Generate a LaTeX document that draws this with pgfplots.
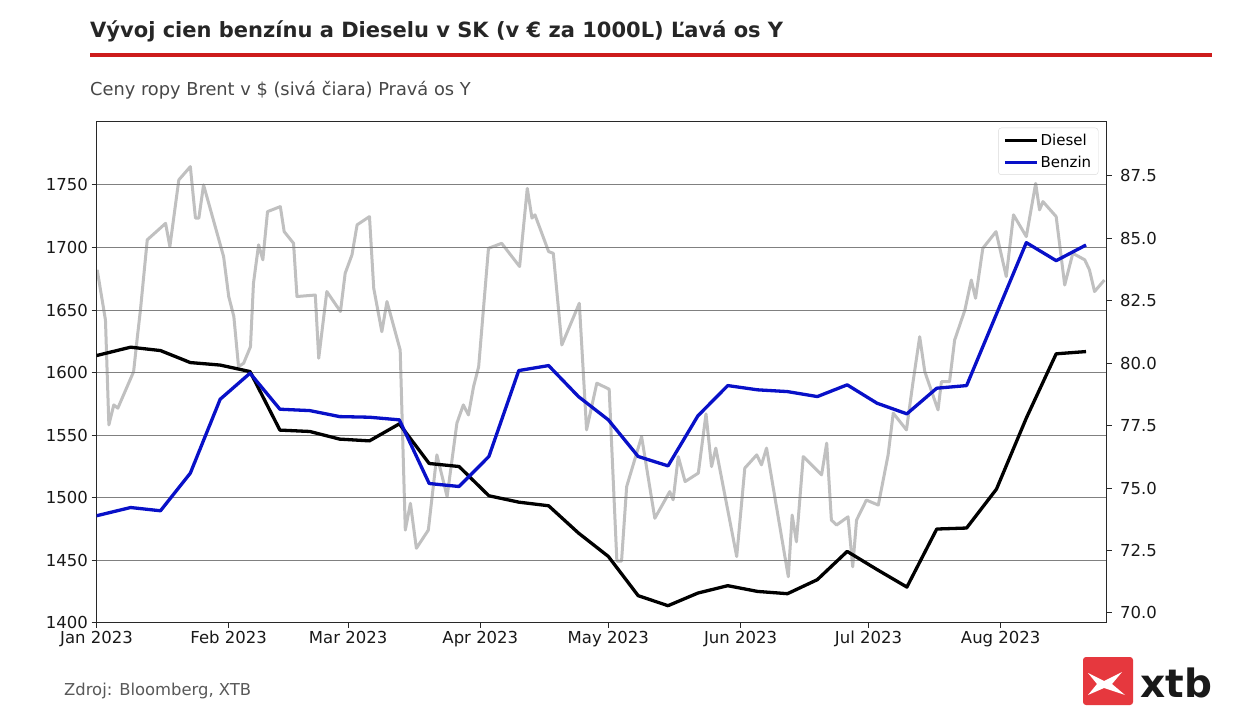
\documentclass[border=0pt]{standalone}
\usepackage{pgfplots}
\pgfplotsset{compat=1.18}
\usepackage{fontspec}
\setmainfont{DejaVu Sans}
\definecolor{brentgray}{RGB}{192,192,192}
\definecolor{benzblue}{RGB}{8,16,200}
\definecolor{xtbred}{RGB}{230,56,62}
\definecolor{titlered}{RGB}{205,28,28}
\definecolor{axisdark}{RGB}{40,40,40}
\definecolor{gridgray}{RGB}{128,128,128}
\begin{document}
\begin{tikzpicture}
\fill[white] (0pt,0pt) rectangle (1260pt,710pt);
\node[anchor=base west, inner sep=0, font=\fontsize{21}{25}\selectfont\bfseries, text=black!85] at (90pt,672pt) {Vývoj cien benzínu a Dieselu v SK (v € za 1000L) Ľavá os Y};
\fill[titlered] (90pt,653pt) rectangle (1212pt,657pt);
\node[anchor=base west, inner sep=0, font=\fontsize{17.8}{21}\selectfont, text=black!72] at (90pt,614pt) {Ceny ropy Brent v \$ (sivá čiara) Pravá os Y};
\node[anchor=base west, inner sep=0, font=\fontsize{16.4}{19}\selectfont, text=black!65] at (64pt,15pt) {Zdroj: Bloomberg, XTB};
% xtb logo
\fill[xtbred, rounded corners=3pt] (1083pt,5pt) rectangle (1133pt,53pt);
\fill[white] (1088pt,37pt) -- (1104pt,29pt) -- (1122pt,38pt) -- (1112pt,26pt) -- (1125pt,15pt) -- (1104pt,22pt) -- (1088pt,15pt) -- (1097pt,26pt) -- cycle;
\node[anchor=base west, inner sep=0, font=\fontsize{39}{44}\selectfont\bfseries, text=black!90] at (1140pt,13pt) {xtb};

% Right axis: Brent
\begin{axis}[at={(96.5pt,87.3pt)}, anchor=south west, width=1010pt, height=501pt, scale only axis,
  xmin=0, xmax=236.8, ymin=69.61, ymax=89.67,
  axis x line=none, axis y line*=right,
  ytick={70,72.5,75,77.5,80,82.5,85,87.5},
  tick align=outside, major tick length=5pt,
  y axis line style={axisdark, line width=1.1pt},
  every tick/.style={axisdark, line width=1pt},
  yticklabel style={font=\fontsize{16.5}{19}\selectfont, text=black!90, xshift=5pt, /pgf/number format/.cd, fixed, fixed zerofill, precision=1, assume math mode=true},
]
\addplot[brentgray, line width=3pt, line join=round] coordinates {
(0.16,83.74) (2.1,81.73) (2.9,77.53) (4.05,78.33) (5.0,78.2) (8.7,79.66) (9.5,80.93) (10.3,82.13)
(11.9,84.94) (16.2,85.6) (17.2,84.67) (19.3,87.34) (22.0,87.87) (23.2,85.81) (24.0,85.81) (25.1,87.14)
(29.8,84.27) (31.0,82.67) (32.2,81.87) (33.3,79.86) (34.5,80.0) (36.1,80.66) (36.8,83.2) (38.0,84.74)
(39.0,84.14) (40.1,86.07) (43.1,86.27) (44.0,85.27) (46.2,84.8) (47.0,82.67) (51.3,82.73) (52.1,80.2)
(54.0,82.87) (57.2,82.07) (58.3,83.6) (59.9,84.34) (61.1,85.54) (64.0,85.87) (65.0,83.0) (66.9,81.26)
(68.1,82.47) (71.2,80.53) (72.4,73.32) (73.6,74.39) (75.0,72.59) (77.8,73.32) (79.8,76.33) (82.2,74.66)
(84.5,77.6) (86.0,78.33) (87.2,77.93) (88.4,79.06) (89.6,79.86) (91.9,84.6) (95.0,84.8) (99.2,83.87)
(101.0,87.0) (102.1,85.81) (102.8,85.94) (106.0,84.47) (107.1,84.4) (109.1,80.73) (113.2,82.4) (114.1,79.73)
(114.9,77.33) (117.3,79.2) (120.2,78.96) (122.0,72.08) (123.1,72.08) (124.3,75.06) (127.8,77.06) (130.9,73.79)
(134.4,74.86) (135.2,74.53) (136.4,76.26) (138.0,75.26) (141.1,75.6) (142.9,77.97) (144.2,75.86) (145.2,76.6)
(150.1,72.26) (152.0,75.8) (154.8,76.33) (155.9,75.93) (157.1,76.6) (162.2,71.45) (163.1,73.92) (164.1,72.85)
(165.7,76.26) (170.0,75.53) (171.2,76.8) (172.3,73.72) (173.5,73.52) (176.2,73.85) (177.3,71.85) (178.2,73.72)
(180.5,74.52) (183.3,74.32) (185.6,76.33) (186.8,78.0) (189.9,77.33) (191.4,79.2) (193.0,81.06) (194.2,79.66)
(197.3,78.13) (198.1,79.26) (200.0,79.26) (201.2,80.93) (203.6,82.13) (205.1,83.33) (206.1,82.6) (207.8,84.6)
(210.9,85.27) (213.3,83.47) (215.0,85.94) (218.0,85.07) (220.2,87.2) (221.1,86.14) (221.9,86.47) (225.0,85.87)
(227.0,83.13) (228.9,84.4) (231.7,84.14) (232.8,83.74) (234.0,82.87) (236.3,83.33)
};
\end{axis}

% Left axis: Diesel, Benzin
\begin{axis}[at={(96.5pt,87.3pt)}, anchor=south west, width=1010pt, height=501pt, scale only axis,
  xmin=0, xmax=236.8, ymin=1400, ymax=1800.6,
  xtick={0,31,59,90,120,151,181,212},
  xticklabels={Jan 2023,Feb 2023,Mar 2023,Apr 2023,May 2023,Jun 2023,Jul 2023,Aug 2023},
  ytick={1400,1450,1500,1550,1600,1650,1700,1750},
  xtick pos=bottom, ytick pos=left,
  tick align=outside, major tick length=5pt,
  axis line style={axisdark, line width=1.1pt},
  every tick/.style={axisdark, line width=1pt},
  ymajorgrids, grid style={gridgray, line width=1pt},
  ticklabel style={font=\fontsize{16.5}{19}\selectfont, text=black!90},
  yticklabel style={/pgf/number format/.cd, 1000 sep={}, assume math mode=true},
  legend style={at={(0.992,0.988)}, anchor=north east, draw=black!15, rounded corners=3pt,
    font=\fontsize{15}{17}\selectfont, fill=white, fill opacity=0.9, text opacity=1,
    inner xsep=5pt, inner ysep=4pt, row sep=5pt},
  legend cell align=left,
  legend image code/.code={\draw[#1, line width=3.3pt] (0pt,0pt) -- (32pt,0pt);},
]
\addplot[black, line width=3.3pt, line join=round] coordinates {
(0,1613.6) (8,1620.3) (15,1617.6) (22,1608) (29,1606) (36,1600.8) (43,1554) (50,1552.9)
(57,1546.8) (64,1545.4) (71,1559) (78,1527.3) (85,1524.9) (92,1501.5) (99,1496.4) (106,1493.5)
(113,1471.7) (120,1453) (127,1421.6) (134,1413.6) (141,1423.7) (148,1429.6) (155,1425) (162,1423.2)
(169,1434.4) (176,1457) (183,1442.5) (190,1428.5) (197,1474.9) (204,1475.7) (211,1506.8) (218,1563.6)
(225,1615) (232,1616.8)
};
\addlegendentry{Diesel}
\addplot[benzblue, line width=3.3pt, line join=round] coordinates {
(0,1485.5) (8,1492.1) (15,1489.5) (22,1519.6) (29,1578.7) (36,1599.5) (43,1570.7) (50,1569.6)
(57,1564.8) (64,1564.3) (71,1562.2) (78,1511.3) (85,1508.9) (92,1532.9) (99,1601.6) (106,1605.6)
(113,1580.8) (120,1562.2) (127,1532.9) (134,1525.4) (141,1565.4) (148,1589.6) (155,1586.2) (162,1584.8)
(169,1580.8) (176,1590.2) (183,1575.5) (190,1567) (197,1587.5) (204,1589.6) (211,1646.8) (218,1703.9)
(225,1689.5) (232,1702)
};
\addlegendentry{Benzin}
\end{axis}
\end{tikzpicture}
\end{document}
